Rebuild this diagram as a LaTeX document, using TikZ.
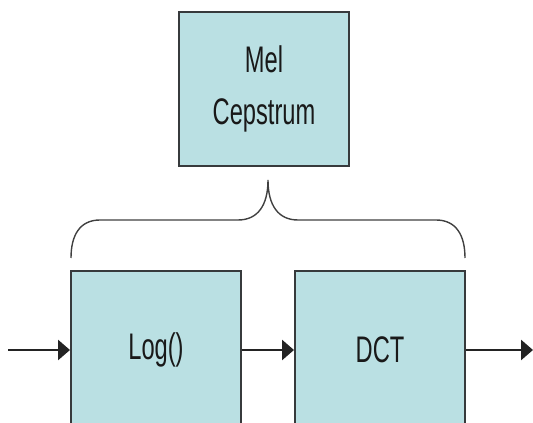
\documentclass[tikz,border=0pt]{standalone}
\usepackage{fontspec}
\setmainfont{Liberation Sans}
\usetikzlibrary{arrows.meta}
\definecolor{boxfill}{RGB}{186,224,227}
\definecolor{boxline}{RGB}{55,58,60}
\definecolor{arrline}{RGB}{35,35,35}
\newcommand{\sq}[1]{\scalebox{0.64}[1]{#1}}
\tikzset{
  procbox/.style={draw=boxline, fill=boxfill, line width=2pt, inner sep=0pt,
    font=\fontsize{37}{47}\selectfont, align=center, text=black!90},
  flow/.style={draw=arrline, line width=2.8pt, -{Triangle[length=12pt,width=20pt]}},
  bracel/.style={draw=black!75, line width=1.4pt}
}
\begin{document}
\begin{tikzpicture}[x=1pt,y=1pt]
\useasboundingbox (0,0) rectangle (533,423);
\node[procbox, minimum width=170pt, minimum height=154pt] (mel) at (264,334) {\sq{Mel}\\[5pt]\sq{Cepstrum}};
\node[procbox, minimum width=170pt, minimum height=158pt] (log) at (156,73) {\sq{Log()}};
\node[procbox, minimum width=170pt, minimum height=158pt] (dct) at (380,73) {\sq{DCT}};
\coordinate (in) at (8,73);
\coordinate (out) at (533,73);
\coordinate (bl) at (71,165);
\coordinate (tip) at (268,243);
\coordinate (br) at (465,165);
\draw[flow] (in) -- (log.west);
\draw[flow] (log.east) -- (dct.west);
\draw[flow] (dct.east) -- (out);
\draw[bracel] (bl) .. controls (71,188) and (80,203) .. (100,203) -- (238,203)
  .. controls (258,203) and (268,218) .. (tip)
  .. controls (268,218) and (278,203) .. (298,203) -- (436,203)
  .. controls (456,203) and (465,188) .. (br);
\end{tikzpicture}
\end{document}
